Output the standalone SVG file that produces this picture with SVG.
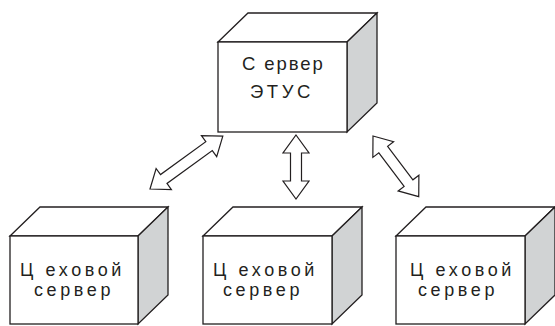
<svg xmlns="http://www.w3.org/2000/svg" width="555" height="326" viewBox="0 0 555 326">
  <style>
    .face { fill: #ffffff; stroke: #231f20; stroke-width: 1.3; stroke-linejoin: miter; }
    .side { fill: #d1d3d4; stroke: #231f20; stroke-width: 1.3; stroke-linejoin: miter; }
    .lbl { font-family: "Liberation Sans", Arial, sans-serif; fill: #231f20; }
    .top-lbl { font-size: 18.5px; }
    .low-lbl { font-size: 18px; letter-spacing: 3.6px; }
    .arrow { fill: #ffffff; stroke: #231f20; stroke-width: 1.2; stroke-linejoin: miter; }
  </style>
  <rect width="555" height="326" fill="#ffffff"/>

  <!-- central server -->
  <g id="server-etus">
    <polygon class="face" points="218,42 248,13 377,13 347,42"/>
    <polygon class="side" points="347,42 377,13 377,103 347,132"/>
    <rect class="face" x="218" y="42" width="129" height="90"/>
    <text class="lbl top-lbl" x="242" y="70" letter-spacing="1.9">С ервер</text>
    <text class="lbl top-lbl" x="250" y="98" letter-spacing="-0.8">Э Т У С</text>
  </g>

  <!-- shop servers -->
  <g id="shop-server-1">
    <polygon class="face" points="10,236 40,207 168,207 138,236"/>
    <polygon class="side" points="138,236 168,207 168,295 138,324"/>
    <rect class="face" x="10" y="236" width="128" height="88"/>
    <text class="lbl low-lbl" x="20" y="276">Ц еховой</text>
    <text class="lbl low-lbl" x="34" y="296">сервер</text>
  </g>

  <g id="shop-server-2">
    <polygon class="face" points="203,236 233,207 362,207 332,236"/>
    <polygon class="side" points="332,236 362,207 362,295 332,324"/>
    <rect class="face" x="203" y="236" width="129" height="88"/>
    <text class="lbl low-lbl" x="213" y="276">Ц еховой</text>
    <text class="lbl low-lbl" x="223" y="296">сервер</text>
  </g>

  <g id="shop-server-3">
    <polygon class="face" points="396,236 426,207 555,207 525,236"/>
    <polygon class="side" points="525,236 555,207 555,295 525,324"/>
    <rect class="face" x="396" y="236" width="129" height="88"/>
    <text class="lbl low-lbl" x="410" y="276">Ц еховой</text>
    <text class="lbl low-lbl" x="418" y="296">сервер</text>
  </g>

  <!-- two-way links -->
  <g id="connectors">
    <polygon class="arrow" transform="translate(150,189) rotate(-36)"
      points="0,0 17,-13 17,-5.5 73,-5.5 73,-13 90,0 73,13 73,5.5 17,5.5 17,13"/>
    <polygon class="arrow" transform="translate(296,135) rotate(90)"
      points="0,0 18,-13 18,-5.5 46,-5.5 46,-13 64,0 46,13 46,5.5 18,5.5 18,13"/>
    <polygon class="arrow" transform="translate(373,136) rotate(53)"
      points="0,0 17,-13 17,-5.5 59,-5.5 59,-13 76,0 59,13 59,5.5 17,5.5 17,13"/>
  </g>
</svg>
